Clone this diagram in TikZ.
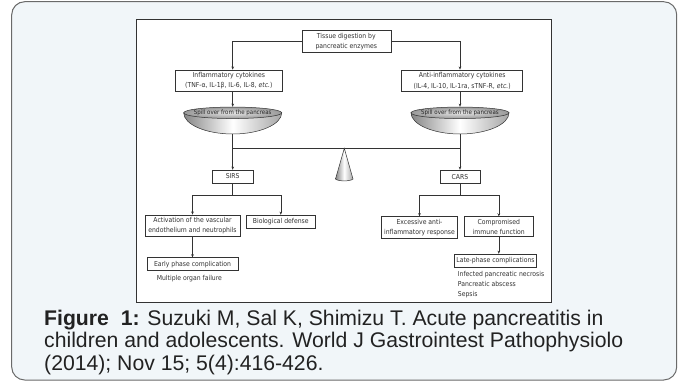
\documentclass[tikz,border=0pt]{standalone}
\usepackage{fontspec}
\setmainfont{Liberation Sans}
\newfontfamily\figfont{DejaVu Sans Condensed}
\usetikzlibrary{arrows.meta,shapes.geometric}

\definecolor{panel}{HTML}{F1F6F9}
\definecolor{frame}{HTML}{6A6A6A}
\definecolor{ink}{HTML}{333333}
\definecolor{captext}{HTML}{222222}
\newcommand{\boxfont}{\figfont\fontsize{6.8}{10.2}\selectfont}
\newcommand{\dishfont}{\figfont\fontsize{6.1}{7}\selectfont}
\newcommand{\capfont}{\fontsize{21.2}{22.7}\selectfont}

\begin{document}
\begin{tikzpicture}[x=1pt, y=-1pt,
    box/.style={draw=ink, line width=0.5pt, fill=white, align=center, inner sep=0pt, text=ink, font=\boxfont},
    link/.style={draw=ink, line width=0.6pt},
    arr/.style={link, -{Stealth[length=3.2pt,width=2.6pt]}},
    dish/.style={ellipse, draw=ink, line width=0.5pt, inner xsep=-10pt, inner ysep=0pt, minimum width=98, minimum height=11.5,
                 inner color=gray!20, outer color=gray!80, text=black!85, font=\dishfont},
    bowl/.style={draw=ink, line width=0.5pt, left color=gray!95, right color=gray!70, middle color=white},
    note/.style={align=left, inner sep=0pt, text=ink, font=\boxfont},
    capline/.style={anchor=base west, inner sep=0pt, text=captext, font=\capfont}]
  \useasboundingbox (0,0) rectangle (683,383);

  % panel and figure frame
  \draw[frame, fill=panel, line width=1pt, rounded corners=13pt] (11.7,1.7) rectangle (676.7,380);
  \draw[ink, fill=white, line width=0.8pt] (136.7,19.3) rectangle (551.7,302.7);

  % top of the tree
  \node (tissue) at (346.3,41.5) [box, minimum width=89, minimum height=21.6] {Tissue digestion by\\pancreatic enzymes};
  \node (inflam) at (228.8,80.8) [box, minimum width=107.7, minimum height=21.7] {Inflammatory cytokines\\(TNF-α, IL-1β, IL-6, IL-8, \textit{etc.})};
  \node (anti) at (462.2,80.8) [box, minimum width=121, minimum height=21.7] {Anti-inflammatory cytokines\\(IL-4, IL-10, IL-1ra, sTNF-R, \textit{etc.})};

  % the two pans of the balance
  \coordinate (baseL) at (232.7,134);
  \coordinate (baseR) at (460,134);
  \draw[bowl] (183.7,112.8) .. controls (183.7,124.4) and (205.7,134) .. (baseL)
              .. controls (259.7,134) and (281.7,124.4) .. (281.7,112.8) -- cycle;
  \draw[bowl] (411,112.8) .. controls (411,124.4) and (433,134) .. (baseR)
              .. controls (487,134) and (509,124.4) .. (509,112.8) -- cycle;
  \node (bowlL) at (232.7,112.8) [dish] {Spill over from the pancreas};
  \node (bowlR) at (460,112.8) [dish] {Spill over from the pancreas};

  % beam and fulcrum
  \coordinate (pivot) at (344.3,148.3);
  \draw[link] (baseL |- pivot) -- (baseR |- pivot);
  \draw[bowl] (pivot) -- (335.5,179) .. controls (338,181.5) and (350.5,181.5) .. (353,179) -- cycle;

  \node (sirs) at (232.7,176.4) [box, minimum width=41, minimum height=12.7] {SIRS};
  \node (cars) at (460,176.7) [box, minimum width=40, minimum height=13.3] {CARS};

  % SIRS side
  \node (activ) at (192.5,225.8) [box, minimum width=94.7, minimum height=21.7] {Activation of the vascular\\endothelium and neutrophils};
  \node (biodef) at (280.8,221.7) [box, minimum width=68.3, minimum height=13.3] {Biological defense};
  \node (early) at (192.5,264.2) [box, minimum width=91, minimum height=13] {Early phase complication};
  \node (organ) at (189.4,278.3) [note] {Multiple organ failure};

  % CARS side
  \node (excess) at (419.5,227.5) [box, minimum width=76, minimum height=21.7] {Excessive anti-\\inflammatory response};
  \node (compr) at (498.8,226.7) [box, minimum width=69, minimum height=20] {Compromised\\immune function};
  \node (late) at (495.5,260.7) [box, minimum width=82.4, minimum height=13.3] {Late-phase complications};
  \node (lateitems) at (457.7,271) [note, anchor=north west] {Infected pancreatic necrosis\\Pancreatic abscess\\Sepsis};

  % connectors
  \draw[arr] (tissue.west) -| (bowlL |- inflam.north);
  \draw[arr] (tissue.east) -| (bowlR |- anti.north);
  \draw[arr] (bowlL |- inflam.south) -- (bowlL.north);
  \draw[arr] (bowlR |- anti.south) -- (bowlR.north);
  \draw[arr] (baseL) -- (sirs.north);
  \draw[arr] (baseR) -- (cars.north);

  \coordinate (forkL) at (232.7,195);
  \coordinate (forkR) at (460,195);
  \draw[link] (sirs.south) -- (forkL);
  \draw[arr] (forkL) -| (activ.north);
  \draw[arr] (forkL) -| (biodef.north);
  \draw[arr] (activ.south) -- (early.north);

  \draw[link] (cars.south) -- (forkR);
  \draw[arr] (forkR) -| (excess.north);
  \draw[arr] (forkR) -| (compr.north);
  \draw[arr] (compr.south) -- (compr.south |- late.north);

  % caption
  \node (cap1) at (44,325) [capline] {\textbf{Figure\ \ 1:} Suzuki M, Sal K, Shimizu T. Acute pancreatitis in};
  \node (cap2) at (44,347.7) [capline] {children and adolescents. World J Gastrointest Pathophysiolo};
  \node (cap3) at (44,370.4) [capline] {(2014); Nov 15; 5(4):416-426.};
\end{tikzpicture}
\end{document}
